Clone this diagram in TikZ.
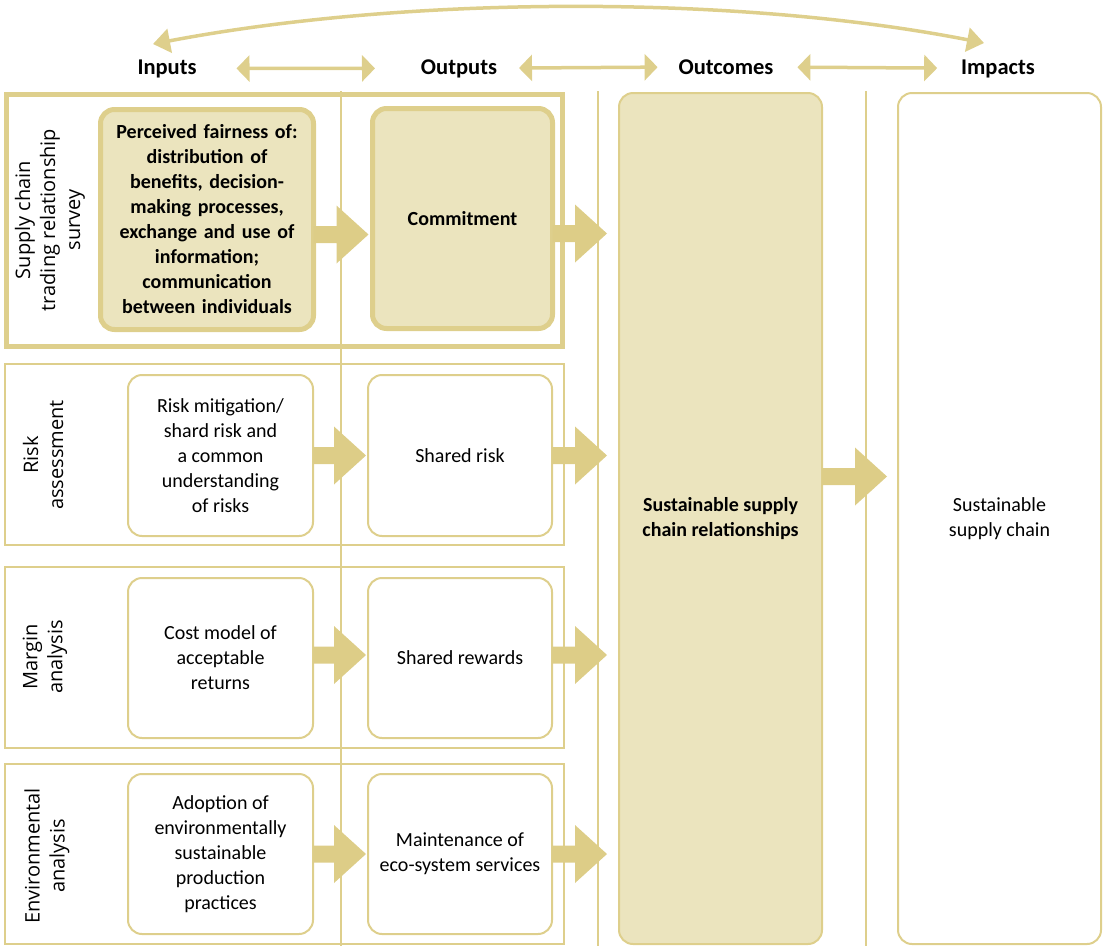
\documentclass[tikz,border=0pt]{standalone}
\usepackage{fontspec}
\setmainfont{Carlito}
\newfontfamily\labfont{Open Sans}
\usetikzlibrary{arrows.meta,calc}
\definecolor{gold}{RGB}{222,207,140}
\definecolor{goldfill}{RGB}{235,228,190}
\definecolor{arrowc}{RGB}{221,205,135}
\newcommand\fatarrow[2]{\fill[arrowc] let \p1=(#1), \p2=(#2) in
  (\x1,\y1+8.5pt) -- (\x2-32pt,\y1+8.5pt) -- (\x2-32pt,\y1+29pt) -- (\x2,\y1)
  -- (\x2-32pt,\y1-29pt) -- (\x2-32pt,\y1-8.5pt) -- (\x1,\y1-8.5pt) -- cycle;}
\begin{document}
\begin{tikzpicture}[x=1pt,y=-1pt,
  every node/.style={inner sep=0pt, outer sep=0pt},
  thinbox/.style={draw=gold, line width=2pt, rounded corners=14pt, fill=white, align=center,
     font=\fontsize{20}{25}\selectfont},
  thickbox/.style={draw=gold, line width=5pt, rounded corners=14pt, fill=goldfill, align=center,
     font=\bfseries\fontsize{20}{25}\selectfont},
  rowframe/.style={draw=gold, line width=2pt},
  rowlabel/.style={rotate=90, align=center, font=\labfont\fontsize{20}{25}\selectfont},
  header/.style={anchor=base, font=\bfseries\fontsize{22.5}{26}\selectfont},
  dbl/.style={draw=gold, line width=3.5pt, {Triangle[width=26pt,length=13pt]}-{Triangle[width=26pt,length=13pt]}},
  sep/.style={draw=gold, line width=2pt},
]
\useasboundingbox (0,0) rectangle (1110,946);

% headers
\node[header] (hin) at (167,74) {Inputs};
\node[header] (hout) at (459,74) {Outputs};
\node[header] (hoc) at (726,74) {Outcomes};
\node[header] (himp) at (998,74) {Impacts};
\draw[dbl, shorten <=40pt, shorten >=46pt] (hin) -- (hout);
\draw[dbl, shorten <=22pt, shorten >=21pt] (hout) -- (hoc);
\draw[dbl, shorten <=24pt, shorten >=24pt] (hoc) -- (himp);
\coordinate (cL) at (153,44);
\coordinate (cR) at (984,43);
\draw[gold, line width=3.5pt, {Triangle[width=24pt,length=17pt]}-{Triangle[width=24pt,length=17pt]}]
  (cL) .. controls (410,-5) and (740,-5) .. (cR);

% row frames
\node[rowframe, line width=5pt, minimum width=556pt, minimum height=252pt] (row1) at (284.5,220.5) {};
\node[rowframe, minimum width=559pt, minimum height=181pt] (row2) at (284.5,454.5) {};
\node[rowframe, minimum width=559pt, minimum height=181pt] (row3) at (284.5,657.5) {};
\node[rowframe, minimum width=559pt, minimum height=180pt] (row4) at (284.5,854) {};

% vertical separators
\coordinate (v1t) at (341,91); \coordinate (v1b) at (341,946);
\coordinate (v2t) at (598,91); \coordinate (v2b) at (598,946);
\coordinate (v3t) at (866,91); \coordinate (v3b) at (866,946);
\draw[sep] (v1t) -- (v1b);
\draw[sep] (v2t) -- (v2b);
\draw[sep] (v3t) -- (v3b);

% row labels
\node[rowlabel] (l1) at (50,220) {Supply chain\\trading relationship\\survey};
\node[rowlabel] (l2) at (43,455) {Risk\\assessment};
\node[rowlabel] (l3) at (45,657) {Margin\\analysis};
\node[rowlabel] (l4) at (47,856) {Environmental\\analysis};

% outcome / impact boxes
\node[draw=gold, line width=2pt, rounded corners=14pt, fill=goldfill, minimum width=203pt, minimum height=851pt,
      align=center, font=\bfseries\fontsize{20}{25}\selectfont] (outc) at (720.5,518.5)
      {Sustainable supply\\chain relationships};
\node[thinbox, minimum width=203pt, minimum height=851pt] (imp) at (999.5,518.5)
      {Sustainable\\supply chain};

% inner boxes
\node[thickbox, minimum width=213pt, minimum height=220pt, text width=205pt] (in1) at (207,219.5)
  {Perceived fairness of:\\distribution of\\benefits, decision-\\making processes,\\exchange and use of\\information;\\communication\\between individuals};
\node[thickbox, minimum width=180pt, minimum height=220pt] (out1) at (462.5,218.5) {\raisebox{-2pt}{Commitment}};

\node[thinbox, minimum width=185pt, minimum height=161pt] (in2) at (220.5,455.5)
  {Risk mitigation/\\shard risk and\\a common\\understanding\\of risks};
\node[thinbox, minimum width=184pt, minimum height=161pt] (out2) at (460,455.5) {Shared risk};

\node[thinbox, minimum width=185pt, minimum height=160pt] (in3) at (220.5,658)
  {Cost model of\\acceptable\\returns};
\node[thinbox, minimum width=184pt, minimum height=160pt] (out3) at (460,658) {Shared rewards};

\node[thinbox, minimum width=185pt, minimum height=160pt] (in4) at (220.5,854)
  {Adoption of\\environmentally\\sustainable\\production\\practices};
\node[thinbox, minimum width=184pt, minimum height=160pt] (out4) at (460,854)
  {Maintenance of\\eco-system services};

% fat arrows
\fatarrow{[yshift=-15pt]in1.east}{[xshift=-4pt]out1.west}
\fatarrow{[yshift=-15pt]out1.east}{[xshift=-12pt]outc.west}
\fatarrow{in2.east}{[xshift=-2pt]out2.west}
\fatarrow{out2.east}{[xshift=-12pt]outc.west}
\fatarrow{[yshift=3pt]in3.east}{[xshift=-2pt]out3.west}
\fatarrow{[yshift=3pt]out3.east}{[xshift=-12pt]outc.west}
\fatarrow{in4.east}{[xshift=-2pt]out4.west}
\fatarrow{out4.east}{[xshift=-12pt]outc.west}
\fatarrow{[yshift=42pt]outc.east}{[xshift=-11pt]imp.west}
\end{tikzpicture}
\end{document}
